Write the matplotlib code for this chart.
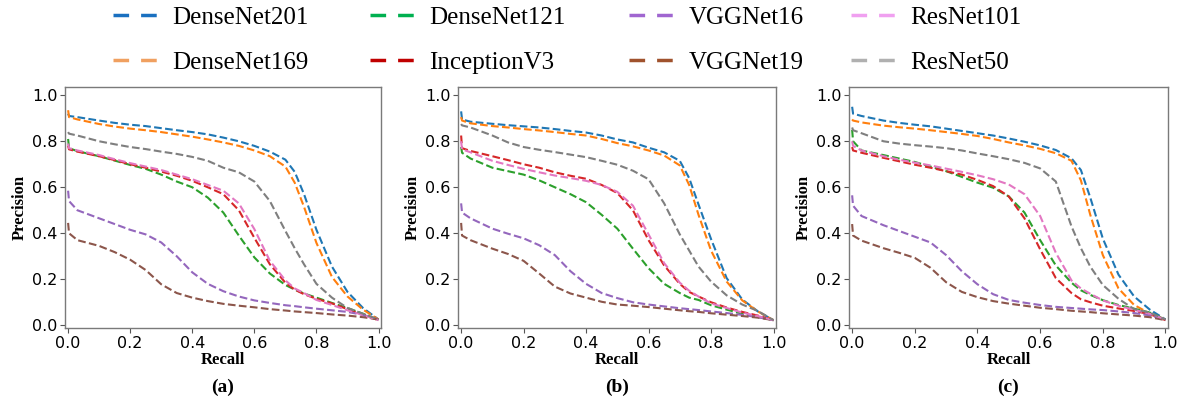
import matplotlib
matplotlib.use("Agg")
import matplotlib.pyplot as plt
from matplotlib.lines import Line2D

# ---------------- data ----------------
recall = [0.0, 0.003, 0.03, 0.1, 0.15, 0.2, 0.25, 0.3, 0.35, 0.4, 0.45, 0.5, 0.55,
          0.6, 0.65, 0.7, 0.73, 0.76, 0.8, 0.85, 0.9, 0.95, 1.0]

models = ["DenseNet201", "DenseNet169", "DenseNet121", "InceptionV3",
          "VGGNet16", "VGGNet19", "ResNet101", "ResNet50"]

# panel (a)
a_densenet201 = [0.92, 0.91, 0.905, 0.89, 0.88, 0.872, 0.866, 0.857, 0.848, 0.84, 0.83, 0.816, 0.80, 0.78, 0.755, 0.72, 0.667, 0.57, 0.415, 0.255, 0.145, 0.075, 0.025]
a_densenet169 = [0.935, 0.905, 0.895, 0.875, 0.864, 0.855, 0.848, 0.84, 0.83, 0.82, 0.808, 0.795, 0.78, 0.76, 0.735, 0.69, 0.62, 0.515, 0.358, 0.21, 0.125, 0.068, 0.025]
a_densenet121 = [0.81, 0.77, 0.757, 0.735, 0.716, 0.697, 0.68, 0.655, 0.625, 0.60, 0.555, 0.49, 0.39, 0.295, 0.225, 0.175, 0.155, 0.138, 0.12, 0.097, 0.075, 0.05, 0.022]
a_inceptionv3 = [0.78, 0.765, 0.755, 0.735, 0.718, 0.70, 0.685, 0.668, 0.65, 0.628, 0.60, 0.57, 0.50, 0.38, 0.265, 0.185, 0.155, 0.135, 0.115, 0.095, 0.07, 0.045, 0.022]
a_vggnet16 = [0.585, 0.54, 0.50, 0.465, 0.44, 0.415, 0.395, 0.36, 0.30, 0.23, 0.18, 0.148, 0.125, 0.108, 0.097, 0.087, 0.083, 0.078, 0.072, 0.065, 0.058, 0.045, 0.025]
a_vggnet19 = [0.445, 0.40, 0.37, 0.345, 0.318, 0.285, 0.24, 0.178, 0.14, 0.12, 0.105, 0.093, 0.085, 0.078, 0.07, 0.064, 0.06, 0.057, 0.053, 0.047, 0.042, 0.035, 0.025]
a_resnet101 = [0.79, 0.77, 0.76, 0.74, 0.722, 0.705, 0.69, 0.675, 0.655, 0.635, 0.61, 0.585, 0.53, 0.418, 0.28, 0.195, 0.16, 0.14, 0.11, 0.088, 0.065, 0.045, 0.022]
a_resnet50 = [0.84, 0.833, 0.825, 0.80, 0.787, 0.775, 0.766, 0.755, 0.745, 0.732, 0.715, 0.685, 0.665, 0.625, 0.54, 0.41, 0.335, 0.265, 0.18, 0.12, 0.075, 0.05, 0.025]

# panel (b)
b_densenet201 = [0.93, 0.895, 0.885, 0.876, 0.87, 0.865, 0.86, 0.853, 0.845, 0.838, 0.825, 0.808, 0.795, 0.772, 0.752, 0.715, 0.64, 0.525, 0.375, 0.205, 0.112, 0.06, 0.022]
b_densenet169 = [0.905, 0.89, 0.878, 0.866, 0.86, 0.853, 0.847, 0.84, 0.832, 0.825, 0.81, 0.792, 0.778, 0.76, 0.738, 0.695, 0.61, 0.48, 0.325, 0.19, 0.108, 0.06, 0.022]
b_densenet121 = [0.775, 0.75, 0.725, 0.685, 0.67, 0.655, 0.63, 0.60, 0.57, 0.535, 0.48, 0.42, 0.333, 0.248, 0.18, 0.14, 0.12, 0.11, 0.087, 0.068, 0.05, 0.037, 0.022]
b_inceptionv3 = [0.825, 0.77, 0.758, 0.735, 0.718, 0.70, 0.685, 0.665, 0.65, 0.637, 0.61, 0.575, 0.50, 0.37, 0.26, 0.18, 0.145, 0.125, 0.10, 0.077, 0.058, 0.042, 0.022]
b_vggnet16 = [0.53, 0.49, 0.465, 0.42, 0.398, 0.378, 0.348, 0.305, 0.235, 0.18, 0.14, 0.118, 0.10, 0.09, 0.082, 0.074, 0.07, 0.066, 0.06, 0.053, 0.045, 0.035, 0.022]
b_vggnet19 = [0.445, 0.39, 0.37, 0.333, 0.31, 0.28, 0.225, 0.168, 0.138, 0.12, 0.102, 0.09, 0.085, 0.079, 0.072, 0.065, 0.061, 0.058, 0.052, 0.046, 0.04, 0.033, 0.022]
b_resnet101 = [0.80, 0.765, 0.752, 0.715, 0.697, 0.68, 0.665, 0.651, 0.64, 0.628, 0.61, 0.58, 0.52, 0.395, 0.27, 0.185, 0.15, 0.125, 0.095, 0.075, 0.055, 0.04, 0.022]
b_resnet50 = [0.875, 0.869, 0.86, 0.825, 0.795, 0.775, 0.763, 0.753, 0.742, 0.731, 0.715, 0.698, 0.672, 0.635, 0.53, 0.395, 0.325, 0.255, 0.19, 0.13, 0.09, 0.062, 0.022]

# panel (c)
c_densenet201 = [0.95, 0.92, 0.91, 0.89, 0.88, 0.872, 0.865, 0.855, 0.845, 0.835, 0.825, 0.812, 0.798, 0.782, 0.762, 0.726, 0.675, 0.555, 0.377, 0.22, 0.125, 0.068, 0.025]
c_densenet169 = [0.895, 0.89, 0.882, 0.868, 0.861, 0.855, 0.848, 0.84, 0.832, 0.823, 0.81, 0.795, 0.782, 0.767, 0.748, 0.715, 0.63, 0.48, 0.305, 0.16, 0.088, 0.051, 0.025]
c_densenet121 = [0.85, 0.80, 0.76, 0.74, 0.725, 0.71, 0.69, 0.67, 0.645, 0.62, 0.598, 0.56, 0.49, 0.37, 0.26, 0.185, 0.152, 0.132, 0.109, 0.088, 0.072, 0.055, 0.025]
c_inceptionv3 = [0.775, 0.76, 0.75, 0.728, 0.713, 0.698, 0.685, 0.67, 0.655, 0.632, 0.605, 0.56, 0.465, 0.33, 0.205, 0.14, 0.113, 0.10, 0.085, 0.073, 0.062, 0.048, 0.022]
c_vggnet16 = [0.565, 0.52, 0.475, 0.435, 0.41, 0.385, 0.36, 0.305, 0.235, 0.178, 0.135, 0.11, 0.098, 0.088, 0.08, 0.075, 0.072, 0.069, 0.066, 0.06, 0.053, 0.043, 0.025]
c_vggnet19 = [0.44, 0.39, 0.368, 0.335, 0.315, 0.293, 0.25, 0.187, 0.145, 0.122, 0.105, 0.094, 0.085, 0.076, 0.07, 0.063, 0.06, 0.057, 0.052, 0.047, 0.042, 0.035, 0.022]
c_resnet101 = [0.80, 0.78, 0.76, 0.735, 0.72, 0.707, 0.695, 0.681, 0.667, 0.652, 0.635, 0.612, 0.57, 0.475, 0.315, 0.195, 0.16, 0.137, 0.108, 0.085, 0.067, 0.05, 0.025]
c_resnet50 = [0.86, 0.848, 0.835, 0.80, 0.79, 0.783, 0.777, 0.77, 0.76, 0.747, 0.735, 0.722, 0.706, 0.682, 0.625, 0.43, 0.335, 0.255, 0.175, 0.115, 0.07, 0.055, 0.025]

panel_labels = ["(a)", "(b)", "(c)"]
xticks = [0.0, 0.2, 0.4, 0.6, 0.8, 1.0]
yticks = [0.0, 0.2, 0.4, 0.6, 0.8, 1.0]

# ---------------- styling ----------------
line_colors = ["#1f77b4", "#ff7f0e", "#2ca02c", "#d62728",
               "#9467bd", "#8c564b", "#e377c2", "#7f7f7f"]
legend_colors = ["#1a70c0", "#f0a060", "#00b050", "#c00000",
                 "#a066d0", "#a0522d", "#f0a0f0", "#b0b0b0"]

panels = [
    [a_densenet201, a_densenet169, a_densenet121, a_inceptionv3, a_vggnet16, a_vggnet19, a_resnet101, a_resnet50],
    [b_densenet201, b_densenet169, b_densenet121, b_inceptionv3, b_vggnet16, b_vggnet19, b_resnet101, b_resnet50],
    [c_densenet201, c_densenet169, c_densenet121, c_inceptionv3, c_vggnet16, c_vggnet19, c_resnet101, c_resnet50],
]

W, H = 1183, 407
fig = plt.figure(figsize=(W / 100, H / 100), dpi=100)

axes_px = [(65, 381), (458, 776), (849, 1168)]
top_px, bot_px = 87, 328
serif = "Liberation Serif"

for i, (l, r) in enumerate(axes_px):
    ax = fig.add_axes([l / W, 1 - bot_px / H, (r - l) / W, (bot_px - top_px) / H])
    for series, col in zip(panels[i], line_colors):
        ax.plot(recall, series, linestyle="--", color=col, lw=1.5)
    ax.set_xlim(-0.01, 1.008)
    ax.set_ylim(-0.012, 1.036)
    ax.set_xticks(xticks)
    ax.set_yticks(yticks)
    ax.set_xticklabels([f"{t:.1f}" for t in xticks])
    ax.set_yticklabels([f"{t:.1f}" for t in yticks])
    ax.tick_params(labelsize=11.5, length=3.5, width=0.8, color="#555555", pad=2)
    for sp in ax.spines.values():
        sp.set_color("#7a7a7a")
        sp.set_linewidth(1.0)
    ax.set_xlabel("Recall", fontfamily=serif, fontweight="bold", fontsize=12, labelpad=1)
    ax.set_ylabel("Precision", fontfamily=serif, fontweight="bold", fontsize=12, labelpad=3)
    ax.text(0.5, -0.245, panel_labels[i], transform=ax.transAxes, ha="center", va="center",
            fontfamily=serif, fontweight="bold", fontsize=14)

# ---------------- legend (4 columns placed individually) ----------------
handles = [Line2D([], [], color=c, lw=2.5, linestyle=(0, (4.5, 3.45))) for c in legend_colors]
col_x = [113, 370, 629, 851]
for k, x in enumerate(col_x):
    idx = [2 * k, 2 * k + 1]
    fig.legend([handles[j] for j in idx], [models[j] for j in idx],
               loc="upper left", bbox_to_anchor=(x / W, 1 - 6 / H),
               frameon=False, borderpad=0, borderaxespad=0,
               handlelength=1.75, handletextpad=0.62, labelspacing=0.92,
               prop={"family": serif, "size": 18})

fig.savefig("out.png", dpi=100)
